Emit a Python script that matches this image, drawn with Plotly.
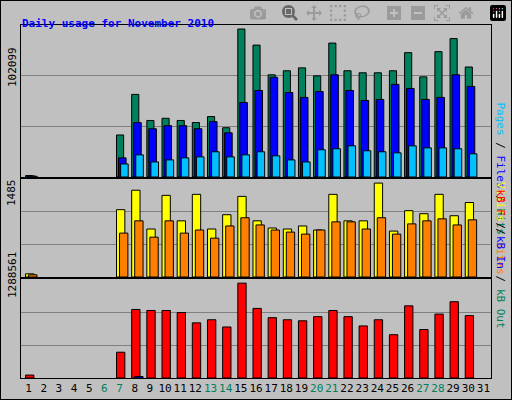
import plotly.graph_objects as go
from plotly.subplots import make_subplots

days = list(range(1, 32))
hits = [1000, 0, 0, 0, 0, 0, 29000, 57000, 39000, 40500, 39000, 37600, 41700, 34000, 102099, 91000,
        70500, 73300, 75300, 69800, 92400, 73300, 71900, 71900, 73300, 85800, 69100, 86500, 95500, 75900, 0]
files = [700, 0, 0, 0, 0, 0, 13200, 37500, 33300, 35400, 35400, 33300, 38200, 30500, 51400, 59700,
         68800, 58300, 54900, 59000, 70500, 59700, 52800, 53500, 63900, 61100, 53500, 54900, 70500, 62500, 0]
pages = [500, 0, 0, 0, 0, 0, 9000, 15300, 10400, 11800, 13200, 13900, 17400, 13900, 15300, 17400,
         14600, 11800, 10400, 18800, 19500, 21500, 18100, 17400, 16700, 21500, 20100, 20100, 19500, 16000, 0]
visits = [50, 0, 0, 0, 0, 0, 1065, 1372, 759, 1291, 888, 1307, 759, 985, 1275, 888,
          775, 759, 807, 743, 1307, 888, 888, 1485, 726, 1049, 1001, 1307, 969, 1178, 0]
sites = [35, 0, 0, 0, 0, 0, 694, 888, 630, 888, 694, 743, 614, 807, 937, 823,
         743, 710, 678, 743, 872, 872, 759, 937, 678, 840, 888, 920, 823, 904, 0]
kb_f = [40000, 0, 0, 0, 0, 0, 350000, 931000, 917000, 917000, 889000, 749000, 791000, 693000, 1288561, 945000,
        819000, 791000, 777000, 833000, 917000, 833000, 707000, 791000, 588000, 980000, 658000, 868000, 1036000, 847000, 0]
kb_in = [0, 0, 0, 0, 0, 0, 0, 20000] + [0] * 23
weekend = {6, 7, 13, 14, 20, 21, 27, 28}
tick_text = ['<span style="color:#00805c">%d</span>' % d if d in weekend else str(d) for d in days]


def nz(v):
    # zero days draw no bar at all
    return [x if x else None for x in v]


fig = make_subplots(rows=3, cols=1)
line = dict(color="black", width=1)
fig.add_trace(go.Bar(x=days, y=nz(hits), marker=dict(color="#00805c", line=line), width=0.47, offset=-0.2), 1, 1)
fig.add_trace(go.Bar(x=days, y=nz(files), marker=dict(color="#0000ff", line=line), width=0.5, offset=-0.07), 1, 1)
fig.add_trace(go.Bar(x=days, y=nz(pages), marker=dict(color="#00c0ff", line=line), width=0.5, offset=0.07), 1, 1)
fig.add_trace(go.Bar(x=days, y=nz(visits), marker=dict(color="#ffff00", line=line), width=0.55, offset=-0.2), 2, 1)
fig.add_trace(go.Bar(x=days, y=nz(sites), marker=dict(color="#ff8000", line=line), width=0.55, offset=0.0), 2, 1)
fig.add_trace(go.Bar(x=days, y=nz(kb_f), marker=dict(color="#ff0000", line=line), width=0.55, offset=-0.2), 3, 1)
fig.add_trace(go.Bar(x=days, y=nz(kb_in), marker=dict(color="#0000ff", line=line), width=0.55, offset=0.0), 3, 1)

doms = [[1 - 177 / 400, 1 - 25 / 400], [1 - 277 / 400, 1 - 179 / 400], [1 - 378 / 400, 1 - 279 / 400]]
tops = [102099 * 151 / 147, 1485 * 96 / 92, 1288561 * 96 / 92]
for i in range(3):
    fig.update_yaxes(row=i + 1, col=1, domain=doms[i], range=[0, tops[i]],
                     tickvals=[tops[i] / 3, 2 * tops[i] / 3], showticklabels=False,
                     gridcolor="#808080", gridwidth=1, showline=True, mirror=True,
                     linecolor="black", zeroline=False, fixedrange=True)
    fig.update_xaxes(row=i + 1, col=1, domain=[21 / 512, 491 / 512], range=[0.5, 31.5],
                     showgrid=False, showline=True, mirror=True, linecolor="black",
                     tickvals=days, ticktext=tick_text, showticklabels=(i == 2), ticks="",
                     tickangle=0, tickfont=dict(size=11))

mono = "DejaVu Sans Mono"
ann = [
    dict(x=20 / 512, y=1 - 15 / 400, text="<b>Daily usage for November 2010</b>", font=dict(color="#0000ff", size=11),
         xanchor="left"),
    dict(x=12 / 512, y=1 - 45 / 400, text="102099", textangle=-90),
    dict(x=12 / 512, y=1 - 193 / 400, text="1485", textangle=-90),
    dict(x=12 / 512, y=1 - 300 / 400, text="1288561", textangle=-90),
    dict(x=500 / 512, y=1 - 100 / 400, textangle=90,
         text='<span style="color:#00c0ff">Pages</span> / <span style="color:#0000ff">Files</span> / <span style="color:#00805c">Hits</span>'),
    dict(x=500 / 512, y=1 - 228 / 400, textangle=90,
         text='<span style="color:#ffff00">Visits</span> / <span style="color:#ff8000">Sites</span>'),
    dict(x=500 / 512, y=1 - 330 / 400, textangle=90,
         text='<span style="color:#ff0000">kB F</span> / <span style="color:#0000ff">kB In</span> / <span style="color:#00805c">kB Out</span>'),
]
for a in ann:
    a.setdefault("font", dict(color="black", size=11))
    a["font"]["family"] = mono
    a.update(xref="paper", yref="paper", showarrow=False)
    if "xanchor" not in a:
        a["xanchor"] = "center"
fig.update_layout(
    width=512, height=400, margin=dict(l=0, r=0, t=0, b=0),
    paper_bgcolor="#c0c0c0", plot_bgcolor="#c0c0c0", showlegend=False,
    barmode="overlay", annotations=ann,
    font=dict(family=mono, size=11, color="black"),
    shapes=[dict(type="rect", xref="paper", yref="paper", x0=0, y0=0, x1=1, y1=1,
                 line=dict(color="black", width=2))],
)
fig.write_html("out.html", post_script="document.body.style.margin='0';")
